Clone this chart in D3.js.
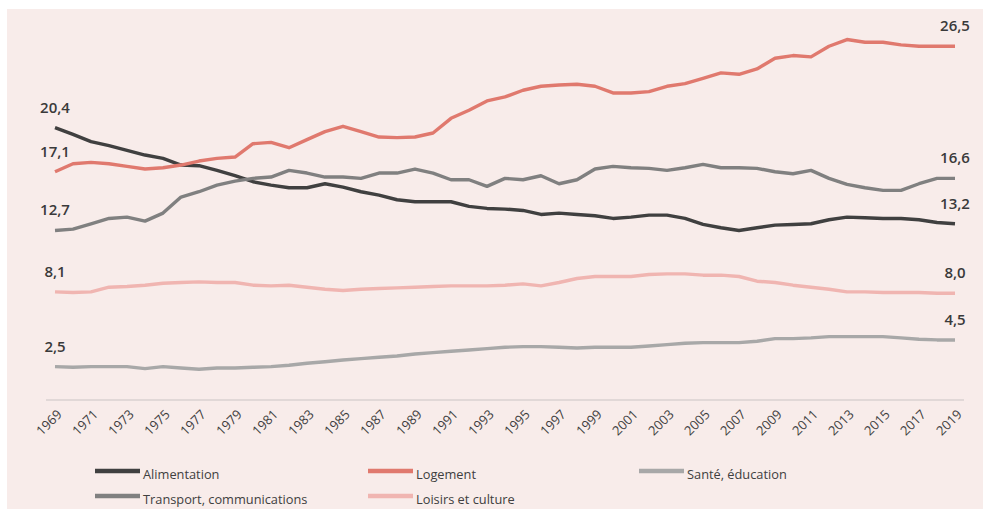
<!DOCTYPE html>
<html>
<head>
<meta charset="utf-8">
<script src="https://d3js.org/d3.v7.min.js"></script>
<style>
  html, body { margin: 0; padding: 0; background: #ffffff; }
  svg { display: block; }
  text { font-family: "Open Sans", "DejaVu Sans", sans-serif; }
</style>
</head>
<body>
<svg id="chart" width="987" height="509"></svg>
<script>
// ---- Data ----
const years = [1969,1970,1971,1972,1973,1974,1975,1976,1977,1978,1979,1980,1981,1982,1983,1984,1985,1986,1987,1988,1989,1990,1991,1992,1993,1994,1995,1996,1997,1998,1999,2000,2001,2002,2003,2004,2005,2006,2007,2008,2009,2010,2011,2012,2013,2014,2015,2016,2017,2018,2019];
const tickYears = [1969,1971,1973,1975,1977,1979,1981,1983,1985,1987,1989,1991,1993,1995,1997,1999,2001,2003,2005,2007,2009,2011,2013,2015,2017,2019];

const alimentation = [20.4,19.9,19.35,19.05,18.7,18.35,18.1,17.6,17.55,17.2,
  16.8,16.35,16.1,15.9,15.9,16.2,15.95,15.6,15.35,15.0,
  14.85,14.85,14.85,14.5,14.35,14.3,14.2,13.9,14.0,13.9,
  13.8,13.6,13.7,13.85,13.85,13.6,13.15,12.9,12.7,12.9,
  13.1,13.15,13.2,13.5,13.7,13.65,13.6,13.6,13.5,13.3,13.2];
const logement = [17.1,17.7,17.8,17.7,17.5,17.3,17.4,17.6,17.9,18.1,
  18.2,19.2,19.3,18.9,19.5,20.1,20.5,20.1,19.7,19.65,
  19.7,20.0,21.1,21.7,22.4,22.7,23.2,23.5,23.6,23.65,
  23.5,23.0,23.0,23.1,23.5,23.7,24.1,24.5,24.4,24.8,
  25.6,25.8,25.7,26.5,27.0,26.8,26.8,26.6,26.5,26.5,26.5];
const sante = [2.5,2.45,2.5,2.5,2.5,2.35,2.5,2.4,2.3,2.4,
  2.4,2.45,2.5,2.6,2.75,2.87,3.0,3.1,3.2,3.3,
  3.45,3.55,3.65,3.75,3.85,3.95,4.0,4.0,3.95,3.9,
  3.95,3.95,3.95,4.05,4.15,4.25,4.3,4.3,4.3,4.4,
  4.6,4.6,4.65,4.75,4.75,4.75,4.75,4.65,4.55,4.5,4.5];
const transport = [12.7,12.8,13.2,13.6,13.7,13.4,14.0,15.2,15.6,16.1,
  16.4,16.6,16.7,17.2,17.0,16.7,16.7,16.6,17.0,17.0,
  17.3,17.0,16.5,16.5,16.0,16.6,16.5,16.8,16.2,16.5,
  17.3,17.5,17.4,17.35,17.2,17.4,17.65,17.4,17.4,17.35,
  17.1,16.95,17.2,16.6,16.15,15.9,15.7,15.7,16.2,16.6,16.6];
const loisirs = [8.1,8.05,8.1,8.45,8.5,8.6,8.75,8.8,8.85,8.8,
  8.8,8.6,8.55,8.6,8.45,8.3,8.2,8.3,8.35,8.4,
  8.45,8.5,8.55,8.55,8.55,8.6,8.7,8.55,8.8,9.1,
  9.25,9.25,9.25,9.4,9.45,9.45,9.35,9.35,9.25,8.9,
  8.8,8.6,8.45,8.3,8.1,8.1,8.05,8.05,8.05,8.0,8.0];

const seriesNames = ["Alimentation","Logement","Santé, éducation","Transport, communications","Loisirs et culture"];
const seriesValues = [alimentation, logement, sante, transport, loisirs];
const seriesColors = ["#404040","#e0796e","#a8a8a8","#808080","#f0b5b1"];

// ---- Layout ----
const W = 987, H = 509;
const svg = d3.select("#chart");

svg.append("rect").attr("x",0).attr("y",0).attr("width",W).attr("height",H).attr("fill","#ffffff");
svg.append("rect").attr("x",7).attr("y",9).attr("width",976).attr("height",H-9).attr("fill","#f8ecea");

const x = d3.scalePoint().domain(years).range([55, 955]).padding(0);
const y = d3.scaleLinear().domain([0, 30]).range([400, -0.5]);
const step = x.step();

const locale = d3.formatLocale({decimal: ",", thousands: " ", grouping: [3], currency: ["", " €"]});
const fmt = locale.format(".1f");

// x axis
const xAxis = d3.axisBottom(x).tickValues(tickYears).tickSize(0).tickPadding(0);
const gx = svg.append("g").attr("transform", "translate(0,400)").call(xAxis);
gx.select(".domain").remove();
gx.selectAll(".tick text")
  .attr("text-anchor", "end")
  .attr("fill", "#3f3f3f")
  .attr("font-size", "13px")
  .attr("font-family", "\"Open Sans\", sans-serif")
  .attr("x", 0).attr("y", 0).attr("dy", "0.35em")
  .attr("transform", "translate(4,12) rotate(-45)");

svg.append("line")
  .attr("x1", x(years[0]) - step/2).attr("x2", x(years[years.length-1]) + step/2)
  .attr("y1", y(0)).attr("y2", y(0))
  .attr("stroke", "#c9c4c3").attr("stroke-width", 1.2);

// lines
const line = d3.line().x((d,i) => x(years[i])).y(d => y(d));
seriesValues.forEach((vals, k) => {
  svg.append("path")
    .datum(vals)
    .attr("fill", "none")
    .attr("stroke", seriesColors[k])
    .attr("stroke-width", 3.4)
    .attr("stroke-linejoin", "round")
    .attr("stroke-linecap", "butt")
    .attr("d", line);
});

// end labels
const labelG = svg.append("g")
  .attr("font-size", "15px").attr("font-weight", 600).attr("fill", "#3a3a3a")
  .attr("text-anchor", "middle");
seriesValues.forEach((vals) => {
  const first = vals[0], last = vals[vals.length-1];
  labelG.append("text").attr("x", x(years[0])).attr("y", y(first) - 15).text(fmt(first));
  labelG.append("text").attr("x", x(years[years.length-1])).attr("y", y(last) - 15).text(fmt(last));
});

// legend
const legCols = [95, 368, 639];
const legRows = [471, 496];
const leg = svg.append("g");
seriesNames.forEach((name, k) => {
  const cx = legCols[k % 3], cy = legRows[Math.floor(k / 3)];
  leg.append("line")
    .attr("x1", cx).attr("x2", cx + 45).attr("y1", cy).attr("y2", cy)
    .attr("stroke", seriesColors[k]).attr("stroke-width", 4.5);
  leg.append("text")
    .attr("x", cx + 48).attr("y", cy + 4)
    .attr("dy", "0.35em")
    .attr("font-size", "12.8px").attr("fill", "#404040")
    .text(name);
});
</script>
</body>
</html>
